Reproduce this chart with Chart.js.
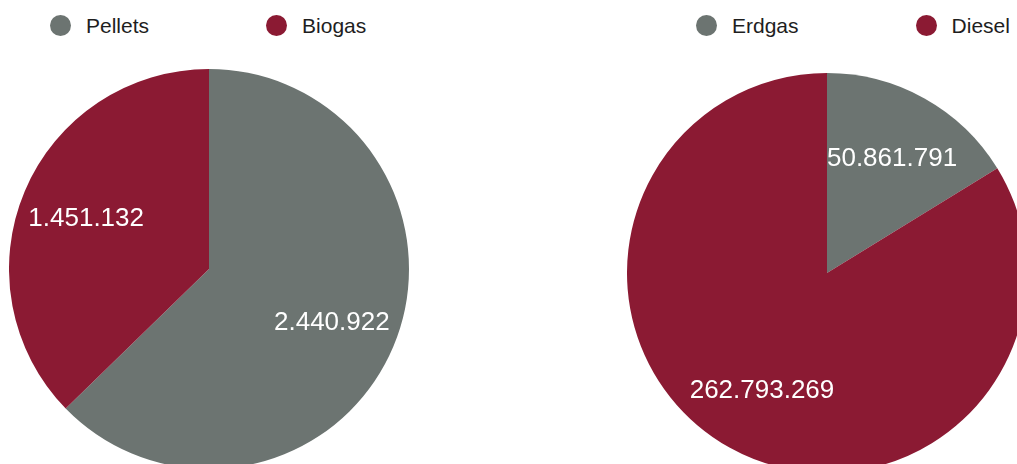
<!DOCTYPE html>
<html>
<head>
<meta charset="utf-8">
<script src="https://cdn.jsdelivr.net/npm/chart.js@4"></script>
<style>
    html, body { margin: 0; padding: 0; background: #fff; }
    body { width: 1017px; height: 464px; overflow: hidden; position: relative; font-family: "Liberation Sans", Arial, sans-serif; }
    .pie { position: absolute; }
    .legend { position: absolute; top: 15px; height: 21px; display: flex; align-items: center; gap: 117px; }
    .legend-item { display: flex; align-items: center; font-size: 21px; color: #1e1e1e; white-space: nowrap; }
    .legend-item .dot { width: 21px; height: 21px; border-radius: 50%; margin-right: 15px; }
</style>
</head>
<body>
<div class="legend" id="legend-left" style="left:50px;"></div>
<div class="legend" id="legend-right" style="left:696px;"></div>
<canvas class="pie" id="pie-left" width="400" height="400" style="left:9px;top:69px;"></canvas>
<canvas class="pie" id="pie-right" width="400" height="400" style="left:627px;top:73px;"></canvas>
<script>
const leftLabels = ['Pellets', 'Biogas'];
const leftValues = [2440922, 1451132];
const rightLabels = ['Erdgas', 'Diesel'];
const rightValues = [50861791, 262793269];
const sliceColors = ['#6c7471', '#8b1a33'];

// German thousands separator
function formatNumber(n) {
    return String(Math.round(n)).replace(/\B(?=(\d{3})+(?!\d))/g, '.');
}

// white value labels at 2/3 of the radius, digits centred on that point
const sliceLabels = {
    id: 'sliceLabels',
    afterDatasetsDraw(chart) {
        const ctx = chart.ctx;
        const meta = chart.getDatasetMeta(0);
        const values = chart.data.datasets[0].data;
        ctx.save();
        ctx.fillStyle = '#ffffff';
        ctx.font = '26px "Liberation Sans", Arial, sans-serif';
        ctx.textAlign = 'center';
        ctx.textBaseline = 'alphabetic';
        meta.data.forEach((arc, i) => {
            const p = arc.getProps(['x', 'y', 'startAngle', 'endAngle', 'outerRadius'], true);
            const mid = (p.startAngle + p.endAngle) / 2;
            const d = p.outerRadius * 2 / 3;
            ctx.fillText(formatNumber(values[i]), p.x + Math.cos(mid) * d, p.y + Math.sin(mid) * d + 9);
        });
        ctx.restore();
    }
};

function renderLegend(id, labels) {
    document.getElementById(id).innerHTML = labels.map((l, i) => `
        <div class="legend-item"><span class="dot" style="background:${sliceColors[i]}"></span>${l}</div>
    `).join('');
}

function renderPie(id, labels, values) {
    return new Chart(document.getElementById(id), {
        type: 'pie',
        data: {
            labels: labels,
            datasets: [{
                data: values,
                backgroundColor: sliceColors,
                borderWidth: 0
            }]
        },
        options: {
            responsive: false,
            animation: false,
            layout: { padding: 0 },
            plugins: {
                legend: { display: false },
                tooltip: { enabled: false }
            }
        },
        plugins: [sliceLabels]
    });
}

renderLegend('legend-left', leftLabels);
renderLegend('legend-right', rightLabels);
renderPie('pie-left', leftLabels, leftValues);
renderPie('pie-right', rightLabels, rightValues);
</script>
</body>
</html>
